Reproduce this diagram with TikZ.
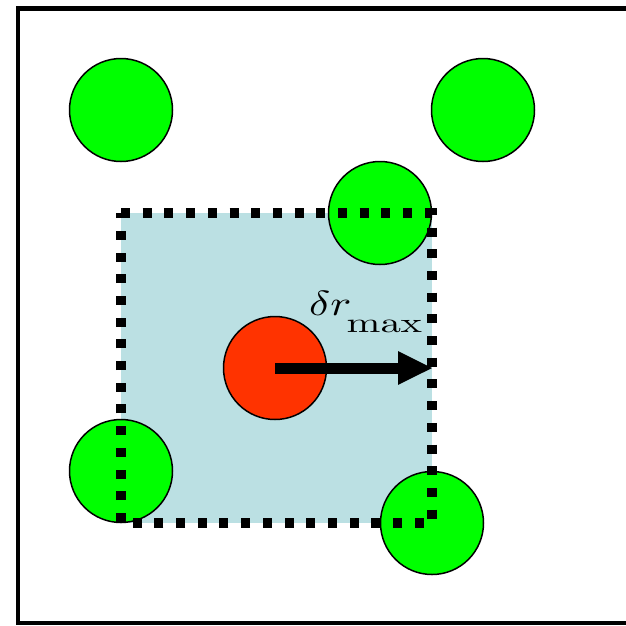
\documentclass[tikz,border=0pt]{standalone}
\usepackage{graphicx}
\usetikzlibrary{arrows.meta}
\definecolor{ballgreen}{RGB}{0,255,0}
\definecolor{ballred}{RGB}{255,51,0}
\definecolor{cellblue}{RGB}{187,224,227}
\tikzset{
  ball/.style={circle, draw=black, line width=1.5pt, minimum size=103pt, inner sep=0pt},
  neighbour/.style={ball, fill=ballgreen},
  centre/.style={ball, fill=ballred},
  cellborder/.style={draw=black, line width=10pt, dash pattern=on 9pt off 12.7pt},
  frameline/.style={draw=black, line width=4.5pt},
  shift arrow/.style={line width=11pt, -{Triangle[length=35pt,width=31pt]}}
}
\begin{document}
\begin{tikzpicture}[x=1pt,y=-1pt]
  \useasboundingbox (0,0) rectangle (626,625);
  % outer frame, open on the right where it runs past the page edge
  \coordinate (fTR) at (626,8.5);
  \coordinate (fTL) at (18,8.5);
  \coordinate (fBL) at (18,623);
  \coordinate (fBR) at (626,623);
  \draw[frameline, line join=miter] (fTR) -- (fTL) -- (fBL) -- (fBR);
  % displacement cell
  \coordinate (sqA) at (121,213);
  \coordinate (sqB) at (432,523);
  \fill[cellblue] (sqA) rectangle (sqB);
  % surrounding particles
  \node[neighbour] (g1) at (121,110) {};
  \node[neighbour] (g2) at (483,110) {};
  \node[neighbour] (g3) at (380,213) {};
  \node[neighbour] (g4) at (121,471) {};
  \node[neighbour] (g5) at (432,523) {};
  % cell border drawn over the particles
  \draw[cellborder] (sqA) -- (sqA -| sqB) -- (sqB) -- (sqA |- sqB) -- cycle;
  % moving particle and its maximum displacement
  \node[centre] (r) at (275,368) {};
  \coordinate (tip) at (433,368);
  \draw[shift arrow] (r.center) -- (tip);
  \node[anchor=base west, inner sep=0pt] (lbl) at (309,315)
    {\scalebox{4.4}[3.5]{$\delta r$}\hspace{-5pt}%
     \raisebox{-17pt}{\scalebox{4.06}[2.8]{$\mathrm{max}$}}};
\end{tikzpicture}
\end{document}
